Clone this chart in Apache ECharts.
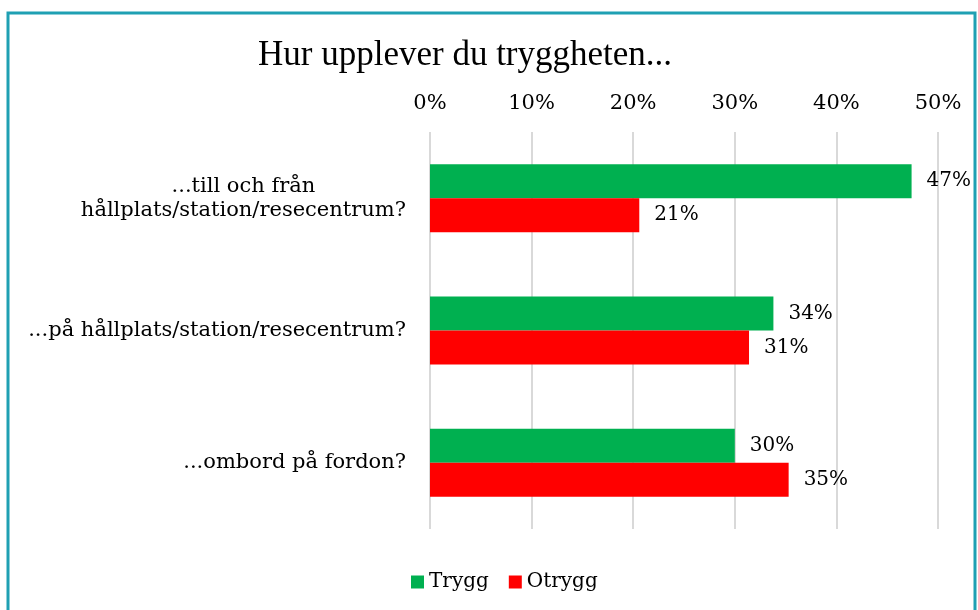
<!DOCTYPE html>
<html>
<head>
<meta charset="utf-8">
<script src="https://cdn.jsdelivr.net/npm/echarts@6/dist/echarts.min.js"></script>
<style>
  html, body { margin: 0; padding: 0; background: #fff; }
  #chart { width: 978px; height: 610px; }
</style>
</head>
<body>
<div id="chart"></div>
<script>
// kategorier uppifrån och ned
const categories = [
  '...till och från\nhållplats/station/resecentrum?',
  '...på hållplats/station/resecentrum?',
  '...ombord på fordon?'
]
const seriesNames = ['Trygg', 'Otrygg']
const trygg = [47.4, 33.8, 30.0]
const otrygg = [20.6, 31.4, 35.3]
const tickLabels = ['0%', '10%', '20%', '30%', '40%', '50%']

const serif = '"DejaVu Serif", serif'
const green = '#00B050'
const red = '#FF0000'

const chart = echarts.init(document.getElementById('chart'))

const barLabel = {
  show: true,
  position: 'right',
  distance: 15,
  fontSize: 20,
  color: '#000',
  fontFamily: serif,
  formatter: (p) => Math.round(p.value) + '%'
}

chart.setOption({
  animation: false,
  textStyle: { fontFamily: serif },
  title: {
    text: 'Hur upplever du tryggheten...',
    left: 253,
    top: 33,
    textStyle: {
      fontFamily: '"Liberation Serif", serif',
      fontSize: 35,
      fontWeight: 'normal',
      color: '#000'
    }
  },
  graphic: [{
    type: 'rect',
    shape: { x: 8, y: 13, width: 967, height: 640 },
    style: { fill: 'none', stroke: '#1FA0B3', lineWidth: 3 },
    silent: true
  }],
  legend: {
    data: seriesNames,
    left: 406,
    top: 567,
    icon: 'rect',
    itemWidth: 13,
    itemHeight: 13,
    itemGap: 20,
    textStyle: { fontFamily: serif, fontSize: 20, color: '#000' }
  },
  grid: {
    left: 430,
    right: 40,
    top: 132,
    bottom: 81
  },
  xAxis: {
    type: 'value',
    position: 'top',
    min: 0,
    max: 50,
    interval: 10,
    axisLine: { show: false },
    axisTick: { show: false },
    axisLabel: {
      margin: 18,
      fontSize: 21,
      color: '#000',
      fontFamily: serif,
      formatter: (v) => tickLabels[v / 10]
    },
    splitLine: { lineStyle: { color: '#D9D9D9', width: 2 } }
  },
  yAxis: {
    type: 'category',
    data: categories,
    inverse: true,
    axisLine: { show: false },
    axisTick: { show: false },
    axisLabel: {
      margin: 24,
      fontSize: 21,
      color: '#000',
      fontFamily: serif,
      lineHeight: 24,
      // centrera raderna inom etiketten
      formatter: (v) => v.split('\n').map(s => '{c|' + s + '}').join('\n'),
      rich: {
        c: { align: 'center', fontSize: 21, fontFamily: serif, color: '#000', lineHeight: 24 }
      }
    }
  },
  series: [
    {
      name: seriesNames[0],
      type: 'bar',
      data: trygg,
      barWidth: 34,
      barGap: '0%',
      itemStyle: { color: green },
      label: barLabel
    },
    {
      name: seriesNames[1],
      type: 'bar',
      data: otrygg,
      barWidth: 34,
      barGap: '0%',
      itemStyle: { color: red },
      label: barLabel
    }
  ]
})
</script>
</body>
</html>
